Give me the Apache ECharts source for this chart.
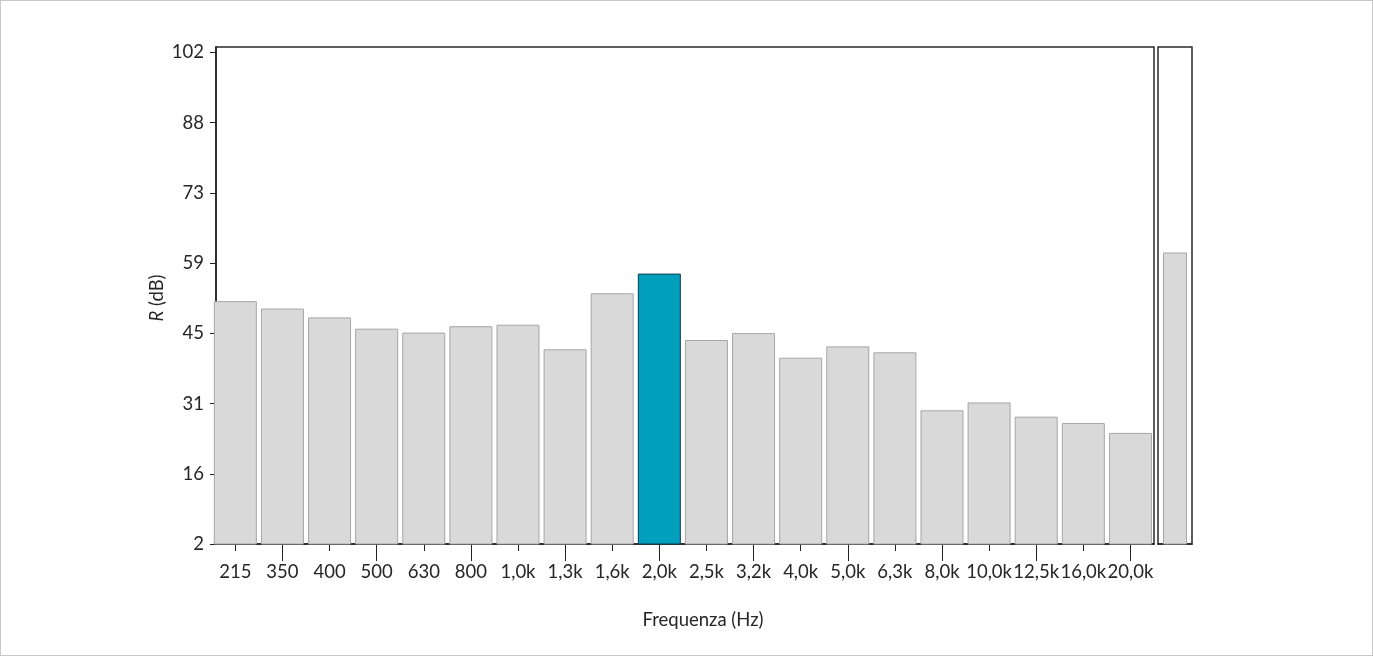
<!DOCTYPE html>
<html>
<head>
<meta charset="utf-8">
<script src="https://cdn.jsdelivr.net/npm/echarts@6/dist/echarts.min.js"></script>
<style>
html,body{margin:0;padding:0;background:#fff;}
#c{width:1373px;height:656px;box-sizing:border-box;border:1px solid #c8c8c8;}
</style>
</head>
<body>
<div id="c"></div>
<script>
// ---- data ----
const categories = ['215','350','400','500','630','800','1,0k','1,3k','1,6k','2,0k','2,5k','3,2k','4,0k','5,0k','6,3k','8,0k','10,0k','12,5k','16,0k','20,0k'];
const values = [51.4, 49.9, 48.1, 45.8, 45.0, 46.3, 46.6, 41.6, 53.0, 57.0, 43.5, 44.9, 39.9, 42.2, 41.0, 29.2, 30.8, 27.9, 26.6, 24.6];
const highlightIndex = 9;
const overallCategory = ['Rw'];
const overallValue = [61.3];
const yTickValues = [2, 16.286, 30.571, 44.857, 59.143, 73.429, 87.714, 102];
const yTickLabels = ['2', '16', '31', '45', '59', '73', '88', '102'];

// ---- styles ----
const FONT = 'Lato';
const FS = 18.5;
const TXT = '#262626';
const greyBar = {color: '#d9d9d9', borderColor: '#a6a6a6', borderWidth: 1};
const hiBar = {color: '#009fbd', borderColor: '#0e3a47', borderWidth: 1};

const idx = categories.map((c, i) => i);
const evenIdx = idx.filter(i => i % 2 === 0);
const oddIdx = idx.filter(i => i % 2 === 1);

const chart = echarts.init(document.getElementById('c'), null, {renderer: 'canvas'});
const X_MIN = -0.41, X_MAX = 19.5, Y_MIN = 2, Y_MAX = 103.1;

const option = {
  animation: false,
  backgroundColor: '#fff',
  title: {
    text: 'Frequenza (Hz)',
    left: 702, textAlign: 'center', top: 610, padding: 0,
    textStyle: {fontFamily: FONT, fontSize: FS, fontWeight: 'normal', color: TXT}
  },
  graphic: [
    {
      type: 'text', x: 156, y: 297, rotation: Math.PI / 2, silent: true,
      style: {
        text: '{ital|R} (dB)', fontSize: FS, fontFamily: FONT, fill: TXT,
        align: 'center', verticalAlign: 'middle',
        rich: {ital: {fontSize: FS, fontFamily: FONT, fontStyle: 'italic', fill: TXT}}
      }
    }
  ],
  grid: [
    {left: 215, top: 46, width: 938, height: 497, show: true, borderColor: '#2a2a2a', borderWidth: 1.5, backgroundColor: 'transparent', containLabel: false},
    {left: 1157, top: 46, width: 34, height: 497, show: true, borderColor: '#2a2a2a', borderWidth: 1.5, backgroundColor: 'transparent', containLabel: false}
  ],
  xAxis: [
    {
      type: 'value', gridIndex: 0, min: X_MIN, max: X_MAX, position: 'bottom',
      axisLine: {show: true, onZero: false, lineStyle: {color: '#222', width: 1.5}},
      axisTick: {show: true, customValues: evenIdx, length: 7, lineStyle: {color: '#222', width: 1}},
      axisLabel: {show: true, customValues: idx, margin: 19, hideOverlap: false, showMinLabel: true, showMaxLabel: true,
        fontFamily: FONT, fontSize: FS, color: TXT,
        formatter: v => categories[Math.round(v)] || ''},
      splitLine: {show: false}
    },
    {
      type: 'value', gridIndex: 0, min: X_MIN, max: X_MAX, position: 'bottom', offset: 0,
      axisLine: {show: false, onZero: false},
      axisTick: {show: true, customValues: oddIdx, length: 17, lineStyle: {color: '#222', width: 1}},
      axisLabel: {show: false},
      splitLine: {show: false}
    },
    {
      type: 'category', gridIndex: 1, data: overallCategory,
      axisLine: {show: true, onZero: false, lineStyle: {color: '#222', width: 1.5}},
      axisTick: {show: false}, axisLabel: {show: false}, splitLine: {show: false}
    }
  ],
  yAxis: [
    {
      type: 'value', gridIndex: 0, min: Y_MIN, max: Y_MAX,
      axisLine: {show: true, onZero: false, lineStyle: {color: '#222', width: 1.5}},
      axisTick: {show: true, customValues: yTickValues, length: 6, lineStyle: {color: '#222', width: 1}},
      axisLabel: {show: true, customValues: yTickValues, margin: 12, hideOverlap: false, fontFamily: FONT, fontSize: FS, color: TXT,
        formatter: v => {
          let k = 0, best = Infinity;
          yTickValues.forEach((t, i) => { const d = Math.abs(t - v); if (d < best) { best = d; k = i; } });
          return yTickLabels[k];
        }},
      splitLine: {show: false}
    },
    {
      type: 'value', gridIndex: 1, min: Y_MIN, max: Y_MAX,
      axisLine: {show: false, onZero: false}, axisTick: {show: false}, axisLabel: {show: false}, splitLine: {show: false}
    }
  ],
  series: [
    {
      type: 'bar', xAxisIndex: 0, yAxisIndex: 0, barWidth: 43, clip: true,
      data: values.map((v, i) => ({value: [i, v], itemStyle: i === highlightIndex ? hiBar : greyBar})),
      emphasis: {disabled: true}
    },
    {
      type: 'bar', xAxisIndex: 2, yAxisIndex: 1, barWidth: 24,
      data: overallValue.map(v => ({value: v, itemStyle: greyBar})),
      emphasis: {disabled: true}
    }
  ]
};
chart.setOption(option);
</script>
</body>
</html>
